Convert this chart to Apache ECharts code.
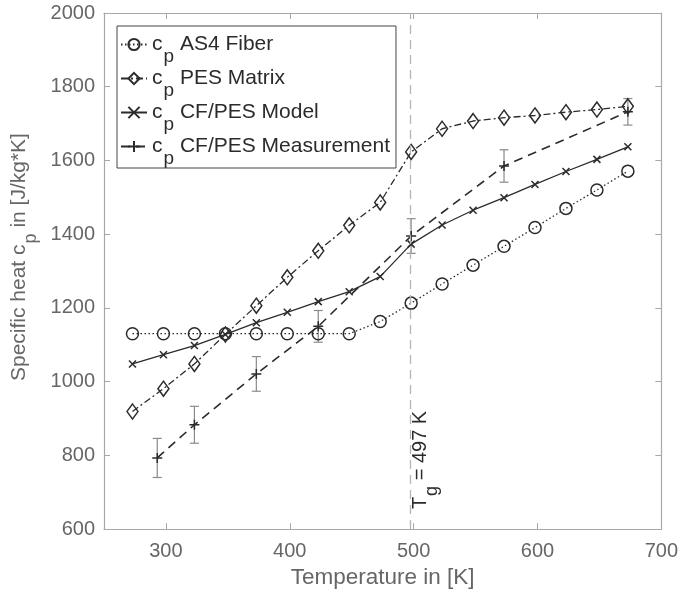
<!DOCTYPE html>
<html>
<head>
<meta charset="utf-8">
<script src="https://cdn.jsdelivr.net/npm/echarts@6/dist/echarts.min.js"></script>
<style>
  html, body { margin: 0; padding: 0; background: #fff; }
  #chart { width: 681px; height: 594px; }
</style>
</head>
<body>
<div id="chart"></div>
<script>
// Temperatures [K] of the tabulated model points
const temps = [273, 298, 323, 348, 373, 398, 423, 448, 473, 498, 523, 548, 573, 598, 623, 648, 673];
// Specific heat [J/kg*K]
const fiberCp = [1130, 1130, 1130, 1130, 1130, 1130, 1130, 1130, 1163, 1213, 1265, 1316, 1367, 1418, 1470, 1520, 1571];
const pesCp   = [919, 981, 1048, 1128, 1206, 1283, 1355, 1424, 1486, 1623, 1686, 1707, 1716, 1722, 1731, 1738, 1747];
const modelCp = [1048, 1073, 1098, 1128, 1160, 1188, 1217, 1244, 1285, 1373, 1425, 1465, 1499, 1535, 1570, 1603, 1637];
// Measured composite values with their spread
const measT   = [293, 323, 373, 423, 498, 573, 673];
const measCp  = [793, 883, 1021, 1150, 1395, 1585, 1732];
const measErr = [53, 50, 47, 43, 47, 44, 36];
// Glass transition temperature
const tg = 497;
// Axis ticks
const xTicks = [300, 400, 500, 600, 700];

const seriesNames = ['AS4 Fiber', 'PES Matrix', 'CF/PES Model', 'CF/PES Measurement'];

const ink = '#2b2b2b';
const axisGray = '#a8a8a8';
const labelGray = '#666';
const font = "'Liberation Sans', Arial, sans-serif";

const pairs = (xs, ys) => xs.map((x, i) => [x, ys[i]]);

const crossPath = 'path://M0,0L10,10M10,0L0,10';
const plusPath = 'path://M5,0L5,10M0,5L10,5';

const chart = echarts.init(document.getElementById('chart'), null, { renderer: 'canvas' });

const option = {
  animation: false,
  backgroundColor: '#fff',
  textStyle: { fontFamily: font },
  grid: { left: 104, right: 17, top: 13, bottom: 63, containLabel: false },
  legend: {
    orient: 'vertical',
    left: 117,
    top: 26,
    padding: [8, 6, 0, 3],
    itemGap: 2,
    itemWidth: 26,
    itemHeight: 14,
    backgroundColor: '#fff',
    borderColor: '#444',
    borderWidth: 1,
    borderRadius: 0,
    data: seriesNames,
    formatter: name => '{a|c}{s|p}{a| ' + name + '}',
    textStyle: {
      fontFamily: font,
      color: ink,
      rich: {
        a: { fontSize: 21, color: ink, fontFamily: font },
        s: { fontSize: 19, color: ink, fontFamily: font, padding: [24, 0, 0, 1] }
      }
    }
  },
  xAxis: [{
    type: 'value',
    min: 250,
    max: 700,
    name: 'Temperature in [K]',
    nameLocation: 'middle',
    nameGap: 36,
    nameTextStyle: { fontSize: 22.5, color: labelGray, fontFamily: font },
    axisLine: { onZero: false, lineStyle: { color: axisGray, width: 1.2 } },
    axisTick: { inside: true, length: 6, customValues: xTicks, lineStyle: { color: axisGray } },
    axisLabel: { customValues: xTicks, fontSize: 20, color: labelGray, margin: 12, fontFamily: font },
    splitLine: { show: false }
  }, {
    type: 'value',
    position: 'top',
    min: 250,
    max: 700,
    axisLine: { onZero: false, lineStyle: { color: axisGray, width: 1.2 } },
    axisTick: { inside: true, length: 6, customValues: xTicks, lineStyle: { color: axisGray } },
    axisLabel: { show: false },
    splitLine: { show: false }
  }],
  yAxis: [{
    type: 'value',
    min: 600,
    max: 2000,
    interval: 200,
    name: 'Specific heat {t|c}{s|p}{t| in [J/kg*K]}',
    nameLocation: 'middle',
    nameGap: 58,
    nameTextStyle: {
      fontSize: 21, color: labelGray, fontFamily: font,
      padding: [0, 0, 0, 28],
      rich: {
        t: { fontSize: 21, color: labelGray, fontFamily: font },
        s: { fontSize: 18, color: labelGray, fontFamily: font, padding: [22, 0, 0, 1] }
      }
    },
    axisLine: { show: true, onZero: false, lineStyle: { color: axisGray, width: 1.2 } },
    axisTick: { show: true, inside: true, length: 6, lineStyle: { color: axisGray } },
    axisLabel: { fontSize: 20, color: labelGray, margin: 9, fontFamily: font, formatter: v => String(v) },
    splitLine: { show: false }
  }, {
    type: 'value',
    position: 'right',
    min: 600,
    max: 2000,
    interval: 200,
    axisLine: { show: true, onZero: false, lineStyle: { color: axisGray, width: 1.2 } },
    axisTick: { show: true, inside: true, length: 6, lineStyle: { color: axisGray } },
    axisLabel: { show: false },
    splitLine: { show: false }
  }],
  series: [
    {
      name: 'AS4 Fiber',
      type: 'line',
      data: pairs(temps, fiberCp),
      symbol: 'circle',
      symbolSize: 12,
      lineStyle: { color: ink, width: 1.3, type: [1.5, 2.5] },
      itemStyle: { color: 'rgba(255,255,255,0)', borderColor: ink, borderWidth: 1.5 },
      z: 3
    },
    {
      name: 'PES Matrix',
      type: 'line',
      data: pairs(temps, pesCp),
      symbol: 'diamond',
      symbolSize: [11, 15],
      lineStyle: { color: ink, width: 1.3, type: [7, 3, 2, 3] },
      itemStyle: { color: 'rgba(255,255,255,0)', borderColor: ink, borderWidth: 1.5 },
      z: 3
    },
    {
      name: 'CF/PES Model',
      type: 'line',
      data: pairs(temps, modelCp),
      symbol: crossPath,
      symbolSize: 7,
      lineStyle: { color: ink, width: 1.3, type: 'solid' },
      itemStyle: { color: ink, borderColor: ink, borderWidth: 1.5 },
      z: 3,
      markLine: {
        silent: true,
        symbol: 'none',
        lineStyle: { color: '#b5b5b5', width: 1.3, type: [9, 6] },
        label: {
          show: true,
          position: 'insideStartBottom',
          distance: [20, -9],
          formatter: '{t|T}{g|g}{t| = 497 K}',
          color: ink,
          rich: {
            t: { fontSize: 20, color: ink, fontFamily: font },
            g: { fontSize: 18, color: ink, fontFamily: font, padding: [22, 0, 0, 1] }
          }
        },
        emphasis: { disabled: true },
        data: [{ xAxis: tg }]
      }
    },
    {
      name: 'CF/PES Measurement',
      type: 'line',
      data: pairs(measT, measCp),
      symbol: plusPath,
      symbolSize: 10,
      lineStyle: { color: ink, width: 1.6, type: [9, 6] },
      itemStyle: { color: ink, borderColor: ink, borderWidth: 1.5 },
      z: 3
    },
    {
      name: 'error',
      type: 'custom',
      data: measT.map((t, i) => [t, measCp[i] - measErr[i], measCp[i] + measErr[i]]),
      z: 2,
      silent: true,
      renderItem: (params, api) => {
        const lo = api.coord([api.value(0), api.value(1)]);
        const hi = api.coord([api.value(0), api.value(2)]);
        const cap = 4.5;
        const style = { stroke: '#8a8a8a', lineWidth: 1.2 };
        return {
          type: 'group',
          children: [
            { type: 'line', shape: { x1: lo[0], y1: lo[1], x2: hi[0], y2: hi[1] }, style },
            { type: 'line', shape: { x1: lo[0] - cap, y1: lo[1], x2: lo[0] + cap, y2: lo[1] }, style },
            { type: 'line', shape: { x1: hi[0] - cap, y1: hi[1], x2: hi[0] + cap, y2: hi[1] }, style }
          ]
        };
      }
    }
  ]
};

chart.setOption(option);
</script>
</body>
</html>
